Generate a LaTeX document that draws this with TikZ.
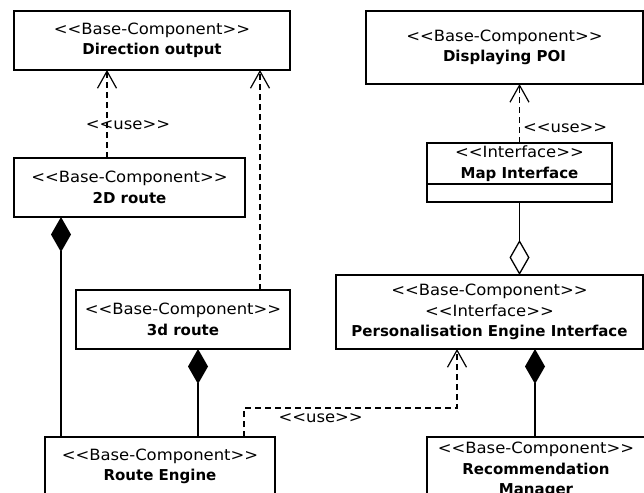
\documentclass[tikz,border=0pt]{standalone}
\usepackage{fontspec}
\setmainfont{DejaVu Sans}
\newfontfamily\widefont[FakeStretch=1.06]{DejaVu Sans}
\usetikzlibrary{arrows.meta}
\usetikzlibrary{positioning}

\newcommand{\stereo}{\widefont\fontsize{15.5}{20.5}\selectfont}
\newcommand{\cname}[1]{{\normalfont\fontsize{15}{20.5}\selectfont\bfseries #1}}
\newcommand{\stype}[1]{<{}<#1>{}>}

\tikzset{
  comp/.style={draw, line width=1.3pt, inner sep=2pt, outer sep=0pt, align=center, font=\stereo},
  uses/.style={line width=1.2pt, dash pattern=on 6pt off 4pt, -{Straight Barb[length=17pt,width=19pt,line width=1.2pt]}},
  compos/.style={line width=1.3pt, {Diamond[length=35pt,width=20pt]}-},
  aggr/.style={line width=1.3pt, {Diamond[open,length=35pt,width=20pt,fill=white,line width=1.3pt]}-},
  uselabel/.style={font=\stereo, inner sep=1pt}
}

\begin{document}
\begin{tikzpicture}[x=1pt,y=-1pt]
\useasboundingbox (0,0) rectangle (644,492);
\clip (0,0) rectangle (644,492);

% left column
\node[comp, minimum width=276, minimum height=59] (dirout) at (152,40.5) {\stype{Base-Component}\\\cname{Direction output}};
\node[comp, minimum width=231, minimum height=59] (route2d) at (129.5,187.5) {\stype{Base-Component}\\\cname{2D route}};
\node[comp, minimum width=214, minimum height=59] (route3d) at (183,319.5) {\stype{Base-Component}\\\cname{3d route}};
\node[comp, minimum width=230, minimum height=59, anchor=north] (routeeng) at (160,437) {\stype{Base-Component}\\\cname{Route Engine}};

% right column
\node[comp, minimum width=277, minimum height=73] (poi) at (504.5,47.5) {\stype{Base-Component}\\\cname{Displaying POI}};
\node[comp, minimum width=185, minimum height=41] (mapif) at (519.5,163.5) {\stype{Interface}\\\cname{Map Interface}};
\node[comp, minimum width=185, minimum height=18, anchor=north] (mapbody) at (mapif.south) {};
\node[comp, minimum width=307, minimum height=74] (persif) at (489.5,312) {\stype{Base-Component}\\\stype{Interface}\\\cname{Personalisation Engine Interface}};
\node[comp, minimum width=218, anchor=north, inner sep=5pt] (recman) at (536,437) {\stype{Base-Component}\\\cname{Recommendation}\\\cname{Manager}};

% use dependencies
\draw[uses] ([xshift=93pt]route2d.north west) -- ([xshift=93pt]route2d.north west |- dirout.south)
  node[uselabel, pos=0.375, xshift=21pt] {\stype{use}};
\draw[uses] ([xshift=-30pt]route3d.north east) -- ([xshift=-30pt]route3d.north east |- dirout.south);
\draw[uses] (mapif.north) -- (mapif.north |- poi.south)
  node[uselabel, pos=0.25, anchor=west, xshift=2pt] {\stype{use}};
\draw[uses] ([xshift=199pt]routeeng.north west) -- ++(0,-29) -| ([xshift=-32.5pt]persif.south)
  node[uselabel, pos=0.18, below=4pt] {\stype{use}};

% composition and aggregation
\draw[compos] ([xshift=47pt]route2d.south west) -- ([xshift=47pt]route2d.south west |- routeeng.north);
\draw[compos] ([xshift=15pt]route3d.south) -- ([xshift=15pt]route3d.south |- routeeng.north);
\draw[aggr] (persif.north -| mapbody.south) -- (mapbody.south);
\draw[compos] ([xshift=45.5pt]persif.south) -- ([xshift=45.5pt]persif.south |- recman.north);
\end{tikzpicture}
\end{document}
